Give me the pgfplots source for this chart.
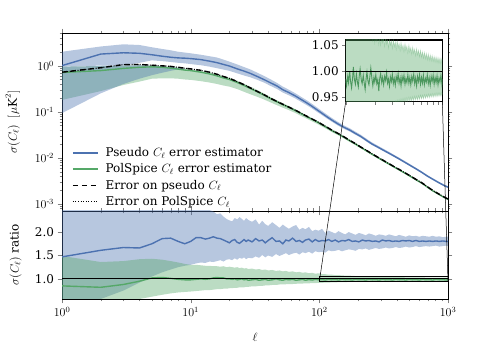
\documentclass[border=0pt]{standalone}
\usepackage{fontspec}
\setmainfont{DejaVu Serif}
\usepackage{amsmath}
\usepackage{pgfplots}
\pgfplotsset{compat=1.18}
\usepackage{pgfplotstable}
\usepgfplotslibrary{fillbetween}
\definecolor{sbblue}{HTML}{4C72B0}
\definecolor{sbgreen}{HTML}{55A868}
\newcommand\fs{\fontsize{12}{14}\selectfont}

\pgfplotstableread{
l B Bhi Blo G Ghi Glo D
1 1.0 2.0 0.95 0.71 0.95 0.18 0.72
2 1.78 2.6 1.0 0.78 0.98 0.28 0.9
3 1.9 2.9 1.0 0.87 1.0 0.38 1.05
4 1.85 2.8 1.15 0.92 1.02 0.45 1.06
5 1.72 2.5 1.3 0.94 1.0 0.52 1.02
6 1.6 2.3 1.25 0.92 0.97 0.53 0.99
7 1.52 2.15 1.2 0.88 0.94 0.53 0.96
8 1.47 2.0 1.15 0.84 0.9 0.52 0.92
9 1.45 1.92 1.12 0.8 0.86 0.5 0.88
10 1.42 1.85 1.08 0.78 0.83 0.49 0.85
12 1.35 1.72 1.02 0.72 0.77 0.46 0.79
14 1.25 1.6 0.95 0.66 0.71 0.43 0.72
16 1.16 1.5 0.88 0.6 0.65 0.4 0.65
18 1.06 1.35 0.82 0.54 0.59 0.37 0.58
20 0.98 1.22 0.77 0.5 0.545 0.35 0.53
23 0.85 1.06 0.68 0.43 0.47 0.31 0.45
26 0.76 0.93 0.61 0.37 0.405 0.27 0.385
29 0.68 0.83 0.56 0.32 0.35 0.24 0.33
33 0.58 0.7 0.49 0.27 0.295 0.21 0.275
37 0.5 0.6 0.43 0.23 0.25 0.185 0.235
42 0.42 0.5 0.36 0.19 0.206 0.158 0.194
47 0.36 0.42 0.31 0.163 0.176 0.138 0.166
52 0.30 0.35 0.26 0.142 0.153 0.122 0.145
58 0.26 0.30 0.227 0.124 0.133 0.108 0.126
65 0.22 0.252 0.194 0.106 0.1135 0.094 0.108
72 0.185 0.211 0.164 0.091 0.097 0.081 0.093
80 0.155 0.176 0.138 0.078 0.083 0.0703 0.0795
88 0.13 0.147 0.117 0.068 0.0722 0.0615 0.0694
95 0.112 0.126 0.101 0.061 0.0646 0.0555 0.0622
105 0.092 0.103 0.084 0.052 0.055 0.0477 0.053
115 0.077 0.086 0.0705 0.045 0.0475 0.0415 0.0459
127 0.064 0.071 0.059 0.038 0.040 0.0353 0.0388
140 0.054 0.0597 0.0498 0.033 0.0347 0.0308 0.0337
155 0.046 0.0506 0.0426 0.028 0.0294 0.0263 0.0286
172 0.040 0.0438 0.0372 0.0235 0.0246 0.0222 0.024
190 0.034 0.0371 0.0318 0.020 0.0209 0.019 0.0204
210 0.029 0.0315 0.0272 0.0168 0.0175 0.016 0.0171
232 0.024 0.026 0.0226 0.0142 0.0148 0.0136 0.0145
256 0.020 0.0216 0.0189 0.012 0.0125 0.0115 0.01224
283 0.0172 0.0185 0.0163 0.0102 0.0106 0.0098 0.0104
312 0.0148 0.0159 0.0141 0.0087 0.009 0.0084 0.00887
345 0.0127 0.0136 0.0121 0.0074 0.00765 0.00716 0.00755
381 0.0109 0.0116 0.0104 0.0063 0.0065 0.0061 0.00643
421 0.0093 0.0099 0.0089 0.0054 0.00556 0.00524 0.00551
465 0.0079 0.0084 0.0076 0.0046 0.00473 0.00447 0.00469
514 0.0067 0.0071 0.0064 0.0039 0.004 0.0038 0.00398
567 0.0057 0.006 0.0055 0.0033 0.00338 0.00322 0.00337
627 0.0048 0.00505 0.00463 0.0028 0.00286 0.00274 0.00286
692 0.0040 0.0042 0.00386 0.0023 0.00235 0.00225 0.00235
765 0.0034 0.00357 0.00328 0.0019 0.00194 0.00186 0.00194
845 0.0029 0.00304 0.0028 0.00162 0.00165 0.00159 0.00165
933 0.0025 0.00262 0.00242 0.00138 0.0014 0.00136 0.00141
1000 0.0023 0.00241 0.00223 0.00125 0.00127 0.00123 0.00128
}\toptab

\pgfplotstableread{
l rB rBhi rBlo rG rGhi rGlo
1 1.47 3.0 0.40 0.85 1.49 0.30
2 1.61 3.0 0.57 0.82 1.36 0.40
3 1.67 3.0 0.75 0.88 1.38 0.50
4 1.66 3.0 0.92 0.95 1.42 0.57
5 1.75 3.0 1.05 1.02 1.43 0.62
6 1.86 3.0 1.14 1.03 1.41 0.66
7 1.87 3.0 1.20 1.01 1.38 0.69
8 1.80 3.0 1.25 0.99 1.35 0.71
9 1.75 3.0 1.28 0.98 1.32 0.72
10 1.80 3.0 1.30 0.98 1.30 0.73
11 1.88 3.0 1.33 0.99 1.30 0.74
12 1.88 2.60 1.35 1.00 1.29 0.75
13 1.85 2.52 1.34 0.99 1.28 0.76
14 1.87 2.47 1.37 1.00 1.28 0.76
15 1.90 2.44 1.36 1.02 1.27 0.77
16 1.87 2.38 1.38 1.03 1.27 0.78
17 1.86 2.40 1.40 1.02 1.26 0.78
18 1.83 2.33 1.37 1.02 1.27 0.79
19 1.80 2.28 1.41 1.00 1.25 0.79
20 1.77 2.25 1.42 1.00 1.26 0.80
21 1.82 2.23 1.40 0.99 1.25 0.80
22 1.84 2.30 1.44 1.00 1.24 0.81
23 1.78 2.27 1.41 0.98 1.25 0.81
24 1.76 2.32 1.45 0.99 1.23 0.82
25 1.80 2.28 1.43 1.00 1.24 0.82
26 1.84 2.24 1.46 0.98 1.22 0.82
27 1.80 2.30 1.42 0.99 1.23 0.83
28 1.83 2.26 1.45 0.97 1.21 0.83
30 1.79 2.22 1.44 0.98 1.22 0.84
32 1.86 2.27 1.48 0.99 1.20 0.84
34 1.81 2.16 1.45 0.97 1.21 0.85
36 1.83 2.24 1.51 0.98 1.19 0.85
38 1.77 2.17 1.46 0.99 1.20 0.86
40 1.82 2.13 1.50 0.97 1.18 0.86
43 1.88 2.21 1.47 0.98 1.19 0.87
46 1.80 2.15 1.53 1.00 1.17 0.87
49 1.81 2.09 1.49 0.98 1.18 0.88
52 1.75 2.16 1.52 0.97 1.16 0.88
55 1.83 2.11 1.55 0.99 1.17 0.885
58 1.81 2.07 1.51 0.98 1.15 0.89
62 1.87 2.12 1.54 0.99 1.16 0.89
66 1.80 2.15 1.56 0.97 1.14 0.895
70 1.82 2.05 1.52 0.98 1.15 0.90
74 1.78 2.09 1.57 0.99 1.13 0.90
78 1.83 2.06 1.55 0.97 1.14 0.905
83 1.85 2.11 1.58 0.985 1.12 0.905
88 1.79 2.02 1.54 0.975 1.13 0.91
93 1.84 2.05 1.59 0.99 1.11 0.91
99 1.80 2.03 1.57 0.98 1.12 0.915
105 1.82 2.07 1.58 0.985 1.10 0.915
111 1.81 1.98 1.56 0.975 1.10 0.92
118 1.84 2.03 1.61 0.99 1.09 0.92
125 1.80 2.00 1.59 0.98 1.09 0.925
133 1.83 1.97 1.60 0.985 1.08 0.925
141 1.79 2.02 1.62 0.975 1.08 0.93
150 1.82 1.98 1.59 0.99 1.075 0.93
159 1.81 1.95 1.61 0.98 1.07 0.932
169 1.84 2.00 1.63 0.985 1.07 0.934
180 1.80 1.97 1.62 0.975 1.065 0.936
191 1.81 1.94 1.60 0.99 1.06 0.938
203 1.79 1.98 1.64 0.98 1.06 0.94
216 1.83 1.96 1.63 0.985 1.055 0.941
229 1.81 1.93 1.65 0.975 1.055 0.942
243 1.82 1.97 1.62 0.99 1.05 0.943
258 1.80 1.95 1.64 0.98 1.05 0.944
274 1.81 1.92 1.66 0.985 1.048 0.945
291 1.79 1.95 1.64 0.975 1.045 0.946
309 1.83 1.94 1.65 0.99 1.045 0.947
328 1.81 1.92 1.67 0.98 1.042 0.948
348 1.82 1.95 1.65 0.985 1.04 0.949
370 1.80 1.93 1.66 0.975 1.04 0.95
393 1.81 1.91 1.68 0.99 1.038 0.951
417 1.80 1.94 1.66 0.98 1.036 0.951
443 1.82 1.92 1.67 0.985 1.036 0.952
470 1.81 1.90 1.69 0.975 1.034 0.952
499 1.82 1.93 1.67 0.99 1.033 0.953
530 1.80 1.91 1.68 0.98 1.032 0.953
563 1.82 1.92 1.70 0.985 1.031 0.954
598 1.80 1.90 1.68 0.975 1.03 0.954
635 1.81 1.92 1.69 0.99 1.03 0.955
674 1.80 1.91 1.70 0.98 1.029 0.955
716 1.81 1.90 1.69 0.985 1.028 0.956
760 1.80 1.92 1.70 0.975 1.028 0.956
807 1.81 1.90 1.71 0.99 1.027 0.957
857 1.80 1.91 1.69 0.98 1.026 0.957
910 1.81 1.89 1.70 0.985 1.026 0.958
966 1.80 1.90 1.71 0.975 1.025 0.958
1000 1.80 1.90 1.70 0.985 1.025 0.958
}\lowtab

\pgfplotstableread{
l g ghi glo
100 0.985 1.11 0.90
102 0.972 1.09 0.915
105 0.99 1.12 0.895
107 0.978 1.10 0.91
110 1.0 1.115 0.90
112 0.982 1.095 0.918
115 0.968 1.10 0.905
118 0.988 1.12 0.912
120 1.008 1.09 0.90
123 0.984 1.10 0.92
126 0.975 1.085 0.908
129 0.995 1.11 0.915
132 0.98 1.09 0.905
135 0.97 1.10 0.92
138 0.99 1.08 0.91
141 1.004 1.095 0.922
145 0.983 1.075 0.912
148 0.976 1.09 0.92
152 0.992 1.08 0.91
155 0.979 1.095 0.925
159 0.965 1.07 0.915
163 0.987 1.085 0.922
166 0.998 1.075 0.912
170 0.981 1.09 0.926
174 0.974 1.068 0.916
178 0.99 1.08 0.925
182 1.006 1.065 0.918
187 0.985 1.085 0.928
191 0.972 1.06 0.918
196 0.988 1.075 0.93
200 0.979 1.055 0.92
205 0.993 1.07 0.928
210 0.976 1.058 0.92
215 0.984 1.075 0.932
220 0.962 1.052 0.922
225 0.986 1.066 0.93
230 0.995 1.05 0.924
236 0.978 1.07 0.934
241 0.988 1.055 0.925
247 0.974 1.064 0.933
253 0.99 1.048 0.926
259 0.982 1.068 0.936
265 0.997 1.052 0.927
271 0.977 1.06 0.935
277 0.985 1.045 0.929
284 0.971 1.062 0.938
290 0.989 1.05 0.93
297 0.98 1.058 0.937
304 0.994 1.044 0.931
311 0.976 1.06 0.94
318 0.986 1.047 0.932
326 0.973 1.056 0.942
333 0.99 1.042 0.934
341 0.981 1.058 0.944
349 0.995 1.045 0.936
357 0.977 1.053 0.945
366 0.987 1.04 0.937
374 0.972 1.055 0.946
383 0.99 1.042 0.938
392 0.98 1.05 0.947
401 0.992 1.038 0.939
411 0.975 1.052 0.948
420 0.986 1.04 0.94
430 0.978 1.048 0.949
440 0.993 1.035 0.941
451 0.977 1.05 0.95
461 0.988 1.037 0.942
472 0.974 1.045 0.95
483 0.99 1.033 0.943
494 0.981 1.046 0.951
506 0.994 1.034 0.944
518 0.976 1.042 0.952
530 0.987 1.03 0.945
542 0.972 1.043 0.952
555 0.99 1.031 0.945
568 0.98 1.04 0.953
581 0.993 1.028 0.946
595 0.975 1.04 0.954
609 0.988 1.027 0.947
623 0.977 1.037 0.954
637 0.992 1.025 0.947
652 0.974 1.036 0.955
668 0.986 1.024 0.948
683 0.979 1.034 0.955
699 0.993 1.022 0.949
716 0.976 1.033 0.956
732 0.987 1.021 0.949
750 0.973 1.031 0.956
767 0.99 1.02 0.95
785 0.98 1.03 0.957
804 0.992 1.019 0.95
823 0.975 1.028 0.957
842 0.988 1.018 0.951
862 0.978 1.027 0.958
882 0.991 1.017 0.951
903 0.974 1.026 0.958
924 0.987 1.016 0.952
946 0.979 1.025 0.958
968 0.992 1.015 0.952
990 0.976 1.024 0.959
1000 0.985 1.02 0.955
}\instab

\begin{document}
\begin{tikzpicture}

% ---------- top panel ----------
\begin{axis}[
  scale only axis, width=386pt, height=178pt,
  at={(62pt,132pt)}, anchor=south west,
  xmode=log, ymode=log,
  xmin=1, xmax=1000, ymin=7e-4, ymax=5.1,
  xtick={1,10,100,1000},
  minor xtick={2,3,4,5,6,7,8,9,20,30,40,50,60,70,80,90,200,300,400,500,600,700,800,900},
  xticklabels={},
  ytick={0.001,0.01,0.1,1},
  yticklabels={$10^{\text{-}3}$,$10^{\text{-}2}$,$10^{\text{-}1}$,$10^{0}$},
  minor ytick={0.0008,0.0009,0.002,0.003,0.004,0.005,0.006,0.007,0.008,0.009,0.02,0.03,0.04,0.05,0.06,0.07,0.08,0.09,0.2,0.3,0.4,0.5,0.6,0.7,0.8,0.9,2,3,4,5},
  tick align=outside,
  major tick length=4.5pt, minor tick length=2.5pt,
  axis line style={line width=0.8pt},
  tick label style={font=\fs},
  ylabel={$\sigma(C_\ell)\;\;[\mu\mathrm{K}^2]$},
  ylabel style={font=\fs, at={(axis description cs:-0.128,0.5)}, anchor=center},
  legend style={at={(0.018,0.0)}, anchor=south west, draw=none, fill=none, font=\fs, row sep=1.6pt,
    /tikz/every odd column/.append style={column sep=5pt}},
  legend cell align=left,
  legend image code/.code={\draw[#1] (0pt,0pt) -- (25pt,0pt);},
]
\addplot[draw=none, name path=bhi, forget plot] table[x=l,y=Bhi]{\toptab};
\addplot[draw=none, name path=blo, forget plot] table[x=l,y=Blo]{\toptab};
\addplot[fill=sbblue, fill opacity=0.4, draw=none, forget plot] fill between[of=bhi and blo];
\addplot[fill=sbblue, fill opacity=0.4, draw=none, forget plot] coordinates {
 (1,0.093) (2,0.25) (3,0.4) (4,0.52) (5,0.62) (6,0.7) (7,0.77) (8,0.83) (9.3,0.88)
 (9,0.86) (8,0.9) (7,0.94) (6,0.97) (5,1.0) (4,1.02) (3,1.0) (2,0.98) (1,0.95)};
\addplot[draw=none, name path=ghi, forget plot] table[x=l,y=Ghi]{\toptab};
\addplot[draw=none, name path=glo, forget plot] table[x=l,y=Glo]{\toptab};
\addplot[fill=sbgreen, fill opacity=0.4, draw=none, forget plot] fill between[of=ghi and glo];

\addplot[sbblue, line width=1.4pt] table[x=l,y=B]{\toptab};
\addlegendentry{Pseudo $C_\ell$ error estimator}
\addplot[sbgreen, line width=1.4pt] table[x=l,y=G]{\toptab};
\addlegendentry{PolSpice $C_\ell$ error estimator}
\addplot[black, line width=1.4pt, dash pattern=on 5pt off 4pt] table[x=l,y=D]{\toptab};
\addlegendentry{Error on pseudo $C_\ell$}
\addplot[black, line width=1.1pt, dash pattern=on 1pt off 1.6pt] table[x=l,y=D]{\toptab};
\addlegendentry{Error on PolSpice $C_\ell$}
\end{axis}

% ---------- ratio panel ----------
\begin{axis}[
  scale only axis, width=386pt, height=88pt,
  at={(62pt,44pt)}, anchor=south west,
  xmode=log, xmin=1, xmax=1000, ymin=0.57, ymax=2.45,
  xtick={1,10,100,1000},
  minor xtick={2,3,4,5,6,7,8,9,20,30,40,50,60,70,80,90,200,300,400,500,600,700,800,900},
  xticklabels={$10^{0}$,$10^{1}$,$10^{2}$,$10^{3}$},
  ytick={1,1.5,2}, yticklabels={1.0,1.5,2.0},
  tick align=outside,
  major tick length=4.5pt, minor tick length=2.5pt,
  axis line style={line width=0.8pt},
  tick label style={font=\fs},
  xlabel={$\ell$},
  xlabel style={font=\fs, at={(axis description cs:0.5,-0.44)}, anchor=center},
  ylabel={$\sigma(C_\ell)$ ratio},
  ylabel style={font=\fs, at={(axis description cs:-0.12,0.5)}, anchor=center},
]
\addplot[draw=none, name path=rbhi] table[x=l,y=rBhi]{\lowtab};
\addplot[draw=none, name path=rblo] table[x=l,y=rBlo]{\lowtab};
\addplot[fill=sbblue, fill opacity=0.4, draw=none] fill between[of=rbhi and rblo];
\addplot[draw=none, name path=rghi] table[x=l,y=rGhi]{\lowtab};
\addplot[draw=none, name path=rglo] table[x=l,y=rGlo]{\lowtab};
\addplot[fill=sbgreen, fill opacity=0.4, draw=none] fill between[of=rghi and rglo];
\addplot[sbblue, line width=1.4pt] table[x=l,y=rB]{\lowtab};
\addplot[sbgreen, line width=1.4pt] table[x=l,y=rG]{\lowtab};
\addplot[black, line width=1.1pt] coordinates {(1,1) (1000,1)};
\addplot[black, line width=0.6pt] coordinates {(100,0.94) (1000,0.94) (1000,1.06) (100,1.06) (100,0.94)};
\coordinate (rl) at (axis cs:100,0.94);
\coordinate (rr) at (axis cs:1000,0.94);
\end{axis}

% ---------- inset ----------
\begin{axis}[
  at={(345.7pt,241.3pt)}, anchor=south west,
  scale only axis, width=96.6pt, height=61.7pt,
  xmode=log, xmin=100, xmax=1000,
  ymin=0.9415, ymax=1.0596,
  xtick={100,1000}, xticklabels={},
  ytick={0.95,1,1.05}, yticklabels={0.95,1.00,1.05},
  ytick pos=left, xtick pos=bottom,
  tick align=outside, major tick length=3.5pt,
  axis line style={line width=1.1pt},
  tick label style={font=\fs},
  axis background/.style={fill=white},
]
\addplot[draw=none, name path=ihi] table[x=l,y=ghi]{\instab};
\addplot[draw=none, name path=ilo] table[x=l,y=glo]{\instab};
\addplot[fill=sbgreen, fill opacity=0.4, draw=none] fill between[of=ihi and ilo];
\addplot[sbgreen, opacity=0.35, line width=0.5pt] table[x=l,y=ghi]{\instab};
\addplot[sbgreen, opacity=0.35, line width=0.5pt] table[x=l,y=glo]{\instab};
\addplot[sbgreen!90!black, line width=0.9pt] table[x=l,y=g]{\instab};
\addplot[black, line width=1.1pt] coordinates {(100,1) (1000,1)};
\coordinate (il) at (rel axis cs:0,0);
\coordinate (ir) at (rel axis cs:1,0);
\end{axis}

\draw[black, line width=0.5pt] (rl) -- (il);
\draw[black, line width=0.5pt] (rr) -- (ir);
\path (0pt,0pt) rectangle (498pt,343pt);
\end{tikzpicture}
\end{document}
